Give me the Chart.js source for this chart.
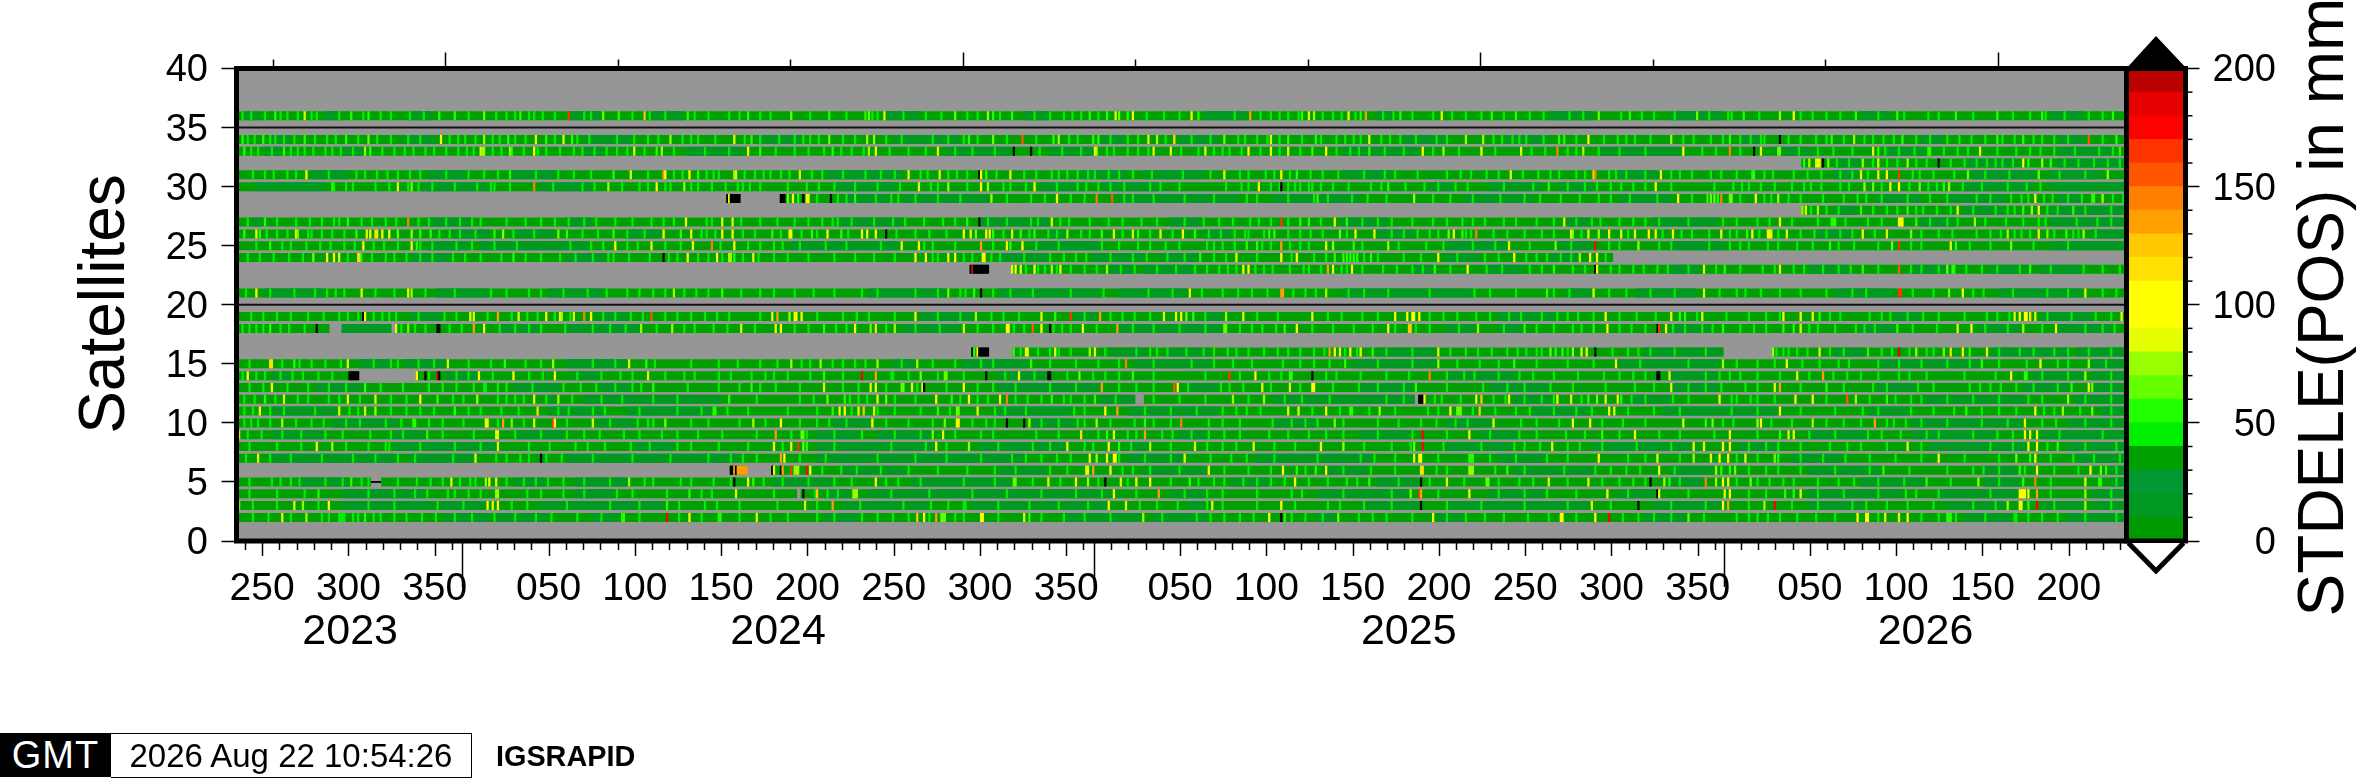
<!DOCTYPE html>
<html><head><meta charset="utf-8">
<style>
html,body{margin:0;padding:0;background:#fff;width:2358px;height:778px;overflow:hidden;font-family:"Liberation Sans",sans-serif}
canvas{position:absolute;top:0}
#logo{position:absolute;left:0;top:733px;width:111px;height:44px;background:#000;color:#fff;font:38px/44px "Liberation Sans";text-align:center;letter-spacing:1px}
#stamp{position:absolute;left:111px;top:733px;width:360px;height:43px;border:1px solid #000;border-left:none;font:33px/43px "Liberation Sans";text-align:center;color:#000}
#tag{position:absolute;left:496px;top:733px;height:44px;font:bold 28.8px/46px "Liberation Sans";color:#000}
</style>
<script src="https://cdn.jsdelivr.net/npm/chart.js@4"></script>
</head><body>
<canvas id="main" width="2358" height="778" style="left:0;width:2358px;height:778px"></canvas>
<canvas id="bar" width="358" height="778" style="left:2000px;width:358px;height:778px"></canvas>
<div id="logo">GMT</div><div id="stamp">2026 Aug 22 10:54:26</div><div id="tag">IGSRAPID</div>
<script>
// Tick labels and annotation
const yTicks=[0,5,10,15,20,25,30,35,40];
const doy2023=[250,300,350];
const doy2024=[50,100,150,200,250,300,350];
const doy2025=[50,100,150,200,250,300,350];
const doy2026=[50,100,150,200];
const yearNames=['2023','2024','2025','2026'];
const yearStartDays=[-14,130,496,861,1095];
const lastDoyOf2023=366;
const startMjd=60180;
const longMjd=[60300,60600,60900,61200];
const shortMjd=[60200,60400,60500,60700,60800,61000,61100];
const colorTicks=[0,50,100,150,200];
const bandColors=['#009900','#009922','#009933','#00a000','#00ee00','#22ff00','#66ff00','#99ff00','#e5ff00','#ffff00','#ffff00','#ffe000','#ffc800','#ffa000','#ff8000','#ff5500','#ff3300','#ff0000','#e60000','#bb0000'];
const gray='#969696';

// Days with data per satellite ([start,end] in days since 2023 DOY 236)
const fullSpan=[[-1,1095]];
const cov29=[[283,291],[314,1095]];
const cov32=[[906,1095]];
const cov28=[[906,1095]];
const cov24=[[-1,797]];
const cov23=[[424,435],[448,1095]];
const cov18=[[-1,53],[91,1095]];
const cov16=[[425,435],[449,861],[889,1095]];
const cov14=[[-1,70],[103,1095]];
const cov12=[[-1,520],[525,682],[684,1095]];
const cov6=[[285,295],[309,1095]];
const cov5=[[-1,77],[83,1095]];
const cov4=[[-1,324],[326,1095]];
const thinRows=[35,20];
const thin5=[77,83];

// Stretches of lower STDELE, start,end pairs in days
const calm36=[4,12,50,60,100,112,192,210,240,258,375,395,455,470,560,584,660,668,760,785,830,860,940,958,1050,1070];
const calm34=[20,30,95,115,200,228,300,326,380,418,500,514,545,568,675,700,735,760,870,885,975,988,1055,1071];
const calm33=[15,25,60,72,200,212,260,294,410,448,470,495,640,684,790,835,890,912,955,978,1055,1085];
const calm32=[925,940,1000,1030,1055,1094];
const calm31=[42,64,110,132,160,184,340,385,490,515,525,560,640,668,800,822,925,938,1005,1042,1050,1080];
const calm30=[10,50,106,145,175,205,345,382,465,490,500,533,690,704,725,755,765,785,1000,1040,1050,1094];
const calm29=[350,380,385,435,510,580,600,650,710,750,800,830,950,975,990,1025,1055,1070];
const calm28=[925,938,1000,1024,1050,1094];
const calm27=[8,14,110,135,190,205,348,385,430,470,540,558,640,666,770,785,820,858,975,995,1050,1094];
const calm26=[125,146,160,183,225,245,470,480,560,576,660,682,915,935,1075,1094];
const calm25=[110,134,140,203,320,383,460,500,700,735,765,785,830,862,1050,1094];
const calm24=[100,123,190,213,440,470,495,525,535,556,700,720,760,776];
const calm23=[505,518,525,553,680,692,725,745,830,848,910,933,970,990,1015,1037,1045,1068];
const calm21=[15,50,115,145,180,212,365,410,440,500,510,550,640,715,770,784,810,845,925,960,1020,1069];
const calm19=[100,118,210,226,395,426,485,498,560,570,730,763,960,975,1045,1075];
const calm18=[60,89,150,174,190,232,385,419,510,570,700,717,730,744,830,853,940,960,1010,1033,1055,1086];
const calm16=[505,527,540,563,660,694,815,860,925,943,1016,1060,1066,1094];
const calm15=[70,88,96,120,190,225,380,392,420,458,520,564,645,694,800,858,950,1009,1075,1094];
const calm14=[20,30,120,138,195,209,440,468,700,741,830,857,1040,1069,1075,1094];
const calm13=[45,72,160,187,210,227,440,499,550,568,650,681,725,759,830,858,950,972,1035,1061,1076,1094];
const calm12=[180,184,200,280,500,520,600,682,740,761,805,830,975,1036,1065,1094];
const calm11=[20,57,180,211,225,274,440,483,515,569,750,783,825,892,945,968,1080,1094];
const calm10=[55,93,210,230,345,366,460,485,600,624,700,726,970,1034,1060,1094];
const calm09=[20,49,90,108,160,189,335,360,370,401,545,561,650,680,720,741,910,944,970,1018,1045,1094];
const calm08=[90,149,230,253,335,403,430,479,515,527,700,738,785,842,870,891,980,1036,1060,1094];
const calm07=[20,91,100,136,190,290,335,455,515,547,590,657,730,757,900,930,1065,1094];
const calm06=[350,387,440,469,525,561,630,655,740,785,830,855,910,952,1010,1031,1085,1094];
const calm05=[35,64,160,178,195,225,310,344,390,448,575,597,660,684,830,849,940,977,1012,1033,1085,1094];
const calm04=[60,108,195,218,340,355,365,506,540,560,625,678,725,757,800,821,910,965,985,1031,1075,1094];
const calm03=[60,143,175,247,350,400,425,503,550,560,650,684,700,783,820,859,910,942,990,1024,1045,1069,1075,1094];
const calm02=[120,147,150,180,205,221,340,360,480,523,530,562,625,636,695,710,815,839,1000,1028,1060,1094];

// Days with a faint bright-green trace
const glow36=[7,28,42,58,88,107,133,155,168,183,204,228,247,272,290,308,331,352,370,385,407,441,461,470,483,526,545,577,592,608,628,639,663,680,703,733,748,771,779,813,832,852,881,912,928,950,985,1005,1028,1058,1072];
const glow34=[5,18,44,56,69,80,105,122,137,151,166,203,219,243,262,276,293,313,322,331,357,384,402,411,428,445,462,481,505,521,537,552,563,579,583,603,616,636,650,662,682,694,727,738,756,775,791,799,818,853,870,882,914,930,942,959,980,997,1012,1029,1060,1080];
const glow33=[7,19,30,43,54,66,83,96,108,120,136,147,152,165,178,199,225,235,252,270,284,311,322,330,355,362,377,388,398,425,438,464,477,488,503,515,527,546,570,581,592,603,615,636,644,664,675,692,707,728,749,757,770,788,800,815,848,856,870,904,924,935,962,971,988,1002,1030,1044,1064,1078];
const glow32=[926,933,947,955,978,992,1000,1022,1028,1058,1066,1075,1083,1090];
const glow31=[8,20,33,52,86,92,120,142,150,172,204,237,252,275,293,304,319,332,350,372,380,395,411,422,439,455,462,480,492,510,529,547,580,600,609,628,652,664,683,708,730,744,760,780,798,815,830,842,868,884,909,928,944,982,1012,1026,1055,1070];
const glow30=[55,66,79,87,98,112,125,138,157,182,199,222,232,250,262,296,302,318,329,345,357,370,405,422,447,456,474,486,505,513,528,545,572,585,603,612,620,634,643,662,676,695,712,733,750,770,780,801,815,830,855,871,882,900,911,933,952,968,999,1010,1025,1036];
const glow29=[335,352,369,378,392,405,418,445,467,482,513,530,548,565,590,608,631,645,665,692,715,731,745,766,788,806,822,842,870,884,905,918,930,952,967,990,1015,1033,1046,1060,1068,1086,1092];
const glow28=[911,920,927,947,961,972,984,992,1005,1018,1029,1054,1070,1085];
const glow27=[5,22,33,48,58,77,85,110,120,128,155,166,175,191,200,228,252,274,291,302,312,322,338,355,368,379,397,415,434,445,463,476,493,512,532,548,568,576,608,651,660,680,692,715,740,775,800,815,840,868,887,900,931,952,980,990,1012,1024,1034,1065,1085];
const glow26=[16,22,28,40,48,54,61,116,128,137,159,171,199,208,225,235,268,276,292,299,314,326,353,381,392,400,410,443,458,474,488,493,512,528,541,562,569,583,608,628,642,668,675,695,727,735,745,755,762,778,805,825,836,842,868,881,905,920,935,948,975,993,1007,1021,1033,1052,1063,1076];
const glow25=[10,25,47,53,78,92,112,126,148,161,192,211,231,247,256,279,295,310,325,340,352,372,402,415,437,462,475,510,521,545,577,598,615,620,651,672,698,715,728,748,772,794,800,830,852,870,892,903,936,950,975,1003,1015,1040,1060];
const glow24=[5,20,29,37,63,77,90,105,112,140,152,175,195,205,226,238,254,280,292,310,318,345,368,380,402,425,441,455,478,505,518,548,565,572,590,610,630,652,660,675,706,730,758,772,792];
const glow23=[456,467,482,497,511,532,543,561,578,594,609,620,639,651,663,680,702,732,755,780,795,808,828,840,856,870,890,901,918,927,950,975,985,1019,1032,1050,1080,1090];
const glow21=[4,18,32,44,61,79,90,108,125,155,168,188,202,240,265,272,291,310,322,345,370,392,405,421,447,460,482,501,527,541,558,587,596,618,624,652,666,690,725,740,771,794,818,832,858,868,882,905,943,970,982,1005,1028,1048,1060];
const glow19=[14,30,49,78,87,104,126,158,173,192,218,234,247,270,284,302,335,350,365,380,405,418,452,490,512,528,560,590,602,631,651,690,706,717,755,770,785,800,810,845,862,875,893,922,945,985,1000,1026,1048,1062];
const glow18=[6,14,24,38,94,108,122,129,151,160,168,189,205,224,242,258,283,299,322,346,352,375,392,406,428,455,477,497,518,530,545,560,587,601,622,634,657,670,690,707,733,752,762,778,800,815,838,848,870,878,910,925,948,970,1012,1025,1045,1070,1080];
const glow16=[453,470,482,502,520,532,549,559,573,578,602,615,629,648,665,680,702,718,735,741,755,770,796,818,832,850,895,903,922,930,952,958,968,978,1020,1032,1040,1052,1072,1085];
const glow15=[6,25,35,50,59,78,104,113,133,146,166,175,205,218,262,278,289,302,312,331,350,384,402,430,437,470,485,498,510,530,552,576,605,615,632,660,680,706,730,752,770,785,812,840,868,880,906,933,962,975,990,1003,1020,1036,1060,1082];
const glow14=[2,10,24,37,54,110,126,133,147,168,176,196,228,247,264,285,305,318,331,350,378,388,405,420,444,461,480,495,510,530,560,580,604,630,650,665,700,710,730,750,762,800,815,850,870,880,910,932,950,978,1000,1018,1045,1060,1085];
const glow13=[6,14,28,52,62,82,95,118,136,150,170,198,218,233,260,278,290,311,325,350,375,410,428,450,470,485,510,530,550,582,615,634,660,675,700,735,745,773,792,820,840,850,880,905,930,955,982,1015,1040,1054,1085];
const glow12=[9,21,40,52,58,70,88,97,124,130,150,160,178,193,210,222,240,254,300,325,333,364,380,392,418,428,450,465,478,490,508,530,545,560,585,606,616,632,665,675,693,727,745,755,778,807,815,840,865,880,890,920,945,975,990,1005,1020,1045,1070,1085];
const glow11=[8,26,44,69,88,97,105,133,140,152,162,185,205,232,254,268,283,295,318,335,355,380,395,412,444,456,490,525,540,555,578,592,622,638,655,670,695,715,728,748,762,775,805,835,865,880,905,925,950,982,1010,1030,1052,1085];
const glow10=[7,18,33,42,62,70,85,110,118,130,150,165,190,215,240,262,272,290,305,325,335,352,375,388,402,425,438,465,475,490,505,530,540,570,580,610,618,640,660,672,685,705,712,752,765,790,802,815,860,866,888,900,920,930,940,955,975,990,1010,1025,1045,1070,1085];
const glow09=[5,25,36,60,76,95,118,136,160,175,200,232,245,266,280,300,320,345,380,395,415,430,462,475,498,520,535,552,580,608,630,660,700,725,752,780,800,835,855,880,910,925,952,978,1005,1028,1055,1080];
const glow08=[6,22,36,62,85,105,125,140,168,180,195,238,262,278,295,315,345,378,398,440,460,470,495,517,540,570,600,612,652,668,698,720,745,770,790,810,830,875,885,905,932,955,975,1015,1028,1048,1070,1088];
const glow07=[4,18,30,48,66,79,102,124,155,168,187,205,228,250,272,285,300,325,340,370,392,410,430,448,465,482,510,525,540,575,600,625,650,670,695,725,740,770,805,815,835,868,880,905,918,945,975,1000,1020,1050,1075,1090];
const glow06=[338,358,372,405,422,450,480,512,528,545,571,585,598,618,640,670,700,728,745,768,795,812,832,875,885,905,925,945,968,990,1020,1035,1052,1066,1088];
const glow05=[6,35,50,60,92,103,128,134,165,172,200,215,235,262,275,285,315,330,355,375,395,420,438,460,498,515,540,582,590,606,620,648,672,710,730,750,770,800,808,835,868,880,895,915,950,965,992,1020,1050,1088];
const glow04=[6,22,38,75,90,102,125,140,175,200,228,248,268,310,334,347,378,400,425,445,465,485,500,520,548,570,590,610,640,668,695,730,745,775,805,840,875,885,915,930,950,985,1015,1050,1085];
const glow03=[8,22,46,75,90,115,130,158,190,215,232,255,270,290,312,335,360,385,440,458,475,492,522,570,590,612,652,668,700,720,745,770,795,830,850,875,900,915,935,955,1005,1018,1052,1085];
const glow02=[8,17,48,52,66,78,90,106,125,135,160,172,210,232,255,268,290,318,345,370,388,400,420,440,465,490,505,535,555,580,628,665,680,700,722,733,775,802,820,830,868,880,903,925,950,975,985,1012,1030,1045,1070,1088];

// Daily STDELE spikes above the quiet level, read as day,value pairs
const sat36=[2,45,15,45,21,55,24,45,34,45,38,85,45,45,65,55,72,45,75,55,82,45,99,45,116,55,125,55,142,65,149,45,160,45,163,55,171,45,176,45,191,165,200,45,211,65,220,55,235,125,238,45,260,55,264,45,
284,45,295,55,302,45,320,65,342,55,363,55,365,65,367,45,374,85,398,45,415,65,422,45,428,45,434,75,437,55,448,55,478,45,488,45,493,55,498,45,503,55,508,85,510,65,515,55,518,90,536,45,552,90,556,55,
586,130,598,45,603,45,614,45,616,55,620,85,623,75,634,45,643,90,647,45,650,55,653,135,669,45,673,55,692,45,697,85,711,45,720,45,726,55,740,55,756,45,788,65,801,45,806,55,820,45,845,65,
863,45,865,45,872,55,893,70,901,90,905,45,920,45,937,55,961,55,965,45,979,45,995,55,1019,55,1038,45,1045,55,1047,45,1080,45,1086,55];
const sat34=[2,55,9,45,14,55,21,45,26,45,32,45,38,55,51,45,62,55,75,65,88,45,98,45,117,95,127,45,131,45,142,75,147,45,156,55,160,45,172,85,178,55,183,45,188,85,193,55,196,45,229,45,237,45,250,75,257,45,266,45,
287,85,297,55,302,45,327,45,336,45,342,60,350,45,364,75,368,75,375,45,420,45,423,55,437,65,454,150,472,55,475,75,486,45,495,55,498,55,515,45,527,85,532,75,542,115,
571,65,590,45,596,45,598,85,608,55,624,55,627,45,641,45,646,45,655,85,667,45,673,45,700,45,711,75,721,75,732,45,742,45,746,45,765,55,768,55,782,90,804,45,809,45,830,70,837,45,843,45,
860,45,864,55,876,45,884,45,893,250,898,45,905,45,920,45,923,55,936,75,947,45,953,45,964,55,972,45,990,45,1004,45,1019,55,1022,45,1034,55,1040,45,1045,45,1052,45,1072,155,1088,55];
const sat33=[3,55,11,45,26,55,34,45,38,45,50,45,59,45,73,75,76,55,90,45,101,45,113,45,127,45,132,45,140,85,141,75,142,70,157,75,158,55,171,90,173,45,186,45,194,45,206,45,213,45,219,45,229,85,242,55,245,75,
295,90,302,55,339,45,344,55,349,45,365,75,369,90,405,85,415,45,449,250,459,250,496,90,497,75,507,45,521,45,530,80,540,85,556,45,
560,80,565,45,574,45,585,95,598,95,608,85,622,55,630,90,649,45,655,55,686,95,698,75,720,95,743,85,764,140,775,45,779,70,837,90,
864,140,878,250,882,85,892,65,893,65,915,45,947,85,950,55,954,45,979,55,980,55,996,45,1009,85,1019,45,1038,45,1052,45,1086,45,1090,55];
const sat32=[907,55,910,70,914,85,915,95,916,85,918,250,921,65,941,75,950,85,961,45,967,75,972,45,985,250,1007,45,1013,45,1018,45,1034,90,1037,55,1045,75,1050,55];
const sat31=[15,45,28,45,39,90,68,45,73,45,80,45,99,45,105,45,133,45,157,55,185,45,194,45,217,55,227,85,246,130,247,90,257,45,261,95,266,55,
271,45,278,45,287,70,288,85,299,45,308,45,314,45,325,85,338,45,363,45,388,95,399,45,406,85,416,45,429,250,430,90,433,55,447,85,471,45,475,45,486,45,496,45,504,45,518,45,
563,45,571,85,585,45,595,45,604,95,613,55,621,45,637,45,670,45,700,45,714,45,723,45,737,85,753,45,765,45,775,45,785,110,786,140,794,45,804,45,824,95,835,45,
853,45,859,45,877,55,878,55,889,45,901,45,917,45,935,45,940,85,950,85,955,95,962,165,970,45,974,45,994,45,1002,65,1043,65,1083,75];
const sat30=[54,55,62,45,92,85,100,65,104,45,146,45,148,45,171,140,206,45,214,75,237,45,242,90,247,45,258,75,266,45,
274,45,282,45,289,45,292,45,336,45,383,45,394,85,401,45,411,75,430,95,434,75,443,45,461,95,491,45,498,45,534,45,
581,45,591,95,598,45,604,250,608,45,615,45,622,45,627,45,656,45,666,55,687,45,705,45,759,55,787,45,795,45,808,45,821,90,
866,45,875,45,890,45,907,45,917,45,928,45,942,75,947,65,957,90,962,95,974,65,979,45,984,45,988,55,991,75,1044,45];
const sat29=[283,250,284,95,285,250,286,250,287,250,288,250,289,250,290,250,314,250,315,250,316,250,318,65,321,90,324,55,327,250,329,95,330,95,343,250,347,45,357,55,382,45,436,75,459,45,474,90,490,45,497,140,506,150,518,45,
584,45,623,45,625,55,654,45,681,75,702,45,754,45,777,45,795,45,834,90,
851,55,853,65,855,65,857,55,859,140,864,65,865,65,879,90,888,45,892,75,898,45,938,45,943,45,980,45,1007,45,1027,45,1037,45,1041,90,1051,45,1074,55,1075,55,1080,75];
const sat28=[906,75,908,85,915,75,940,55,955,45,967,55,976,45,984,45,996,85,1025,45,1034,55,1039,75,1043,90,1048,45,1063,55];
const sat27=[15,55,41,45,55,45,63,55,71,45,91,45,98,140,104,45,135,45,140,45,183,45,207,45,218,45,239,45,246,45,259,90,
271,45,280,85,286,85,330,45,344,45,347,45,386,45,408,45,422,55,429,250,459,45,471,85,481,45,504,45,523,45,
559,45,586,45,591,45,598,45,604,165,615,55,620,55,627,45,635,80,642,55,668,45,700,45,709,45,722,45,733,45,752,45,762,45,768,85,784,45,789,45,808,45,823,45,
860,45,880,45,893,90,915,45,923,55,924,55,925,55,944,45,962,90,963,90,964,90,972,55,996,45,1006,75,1043,45,1047,45,1077,45];
const sat26=[3,55,10,90,12,55,33,90,34,65,42,45,68,55,74,85,76,95,79,110,80,110,83,95,87,95,92,65,100,70,105,55,111,55,122,45,148,55,153,75,185,60,190,55,217,55,246,95,256,55,262,90,
271,45,280,90,286,90,309,55,319,85,320,95,332,55,335,45,341,90,349,55,361,95,364,85,369,95,375,250,420,90,424,85,427,65,433,100,435,95,437,55,448,85,453,55,461,55,469,45,480,75,500,55,507,80,518,80,521,55,534,85,547,90,554,55,
577,45,585,45,594,45,597,55,600,55,615,45,621,45,638,65,647,95,658,85,683,45,690,45,701,65,704,90,709,50,711,45,714,45,717,140,772,95,773,65,782,85,788,75,794,95,801,85,809,85,817,90,821,90,831,90,
852,45,859,85,864,45,874,55,877,90,886,95,887,95,888,85,892,45,897,85,913,45,928,45,941,95,955,85,969,60,985,45,1015,45,1025,75,1029,45,1038,45,1043,90,1048,65,1059,55,1066,45,1069,75];
const sat25=[18,55,30,45,39,45,61,45,67,45,72,95,84,45,100,95,103,55,105,45,135,45,204,45,218,90,225,45,239,85,263,95,
274,140,287,90,302,45,315,45,384,85,394,95,397,45,430,130,445,95,447,55,454,90,500,45,528,45,537,45,
561,45,565,45,570,45,584,55,590,55,593,45,604,130,609,45,630,80,634,75,646,55,666,75,688,45,736,85,763,65,786,175,811,70,823,45,
864,45,875,45,886,45,912,45,922,55,927,45,958,65,962,165,969,45,992,85,995,55,1027,65];
const sat24=[12,45,43,65,51,90,55,95,58,85,69,110,70,110,71,45,85,45,97,45,124,45,131,45,159,55,166,45,186,45,214,45,217,45,246,250,249,45,260,90,266,45,
272,45,277,90,284,75,285,75,287,55,298,85,301,45,330,45,357,45,392,90,398,90,405,45,411,85,415,95,420,45,431,90,432,90,436,45,470,45,485,45,491,45,526,45,538,45,557,55,
578,85,604,95,613,95,623,45,635,55,640,55,642,55,644,55,646,55,648,55,656,55,685,45,695,90,722,45,739,90,746,45,752,45,766,45,777,75,783,95,787,95];
const sat23=[424,250,425,180,426,250,427,250,428,250,429,250,430,250,431,250,432,250,433,250,434,250,448,85,450,95,453,85,461,90,463,45,471,75,474,45,476,85,490,45,503,75,519,45,554,45,
568,45,573,45,582,90,585,90,589,45,599,45,617,45,627,45,631,135,634,85,642,45,645,90,671,45,686,45,693,55,712,95,723,45,748,45,762,55,773,45,786,250,787,90,800,45,814,45,822,45,
849,85,861,55,883,45,893,85,907,45,934,45,941,55,962,150,969,45,990,65,993,55,994,55,1001,45,1010,45,1038,55,1069,45];
const sat21=[10,90,51,45,56,45,71,85,98,90,100,70,146,45,175,45,213,45,225,45,232,45,247,45,252,70,258,45,
280,55,302,45,333,45,361,45,411,65,418,45,426,55,430,250,437,45,551,85,
570,45,579,45,604,135,605,135,611,45,630,75,643,45,716,45,758,55,762,45,785,85,804,45,
849,85,873,45,893,45,920,45,935,45,962,165,963,165,991,65,999,90,1011,45,1070,85,1080,45,1088,45];
const sat19=[7,45,22,45,40,45,58,45,63,45,69,45,72,250,73,95,83,45,91,45,119,45,134,85,136,85,144,45,150,130,162,85,167,45,178,90,183,45,186,95,187,75,194,85,200,140,204,95,211,45,227,45,239,150,254,45,262,45,
277,45,309,85,312,130,319,75,322,95,323,90,326,90,358,45,392,90,427,75,436,45,443,45,465,85,473,55,482,165,499,135,505,45,519,45,536,85,543,85,546,95,549,60,553,55,
572,75,582,80,622,80,639,45,660,45,670,95,677,95,680,100,681,100,684,95,698,45,725,45,736,45,743,45,764,45,776,45,792,90,821,45,830,90,835,55,838,55,
848,85,885,45,895,90,905,90,912,95,916,55,928,45,952,45,957,45,967,45,976,45,1013,45,1019,45,1029,85,1032,90,1035,100,1036,100,1038,110,1041,80,1076,45,1085,45,1091,90];
const sat18=[2,45,10,45,18,55,29,45,45,250,
91,85,98,65,102,45,115,250,116,250,136,130,142,90,175,45,215,45,233,70,251,75,264,45,
275,45,291,85,311,85,314,95,330,45,339,50,357,95,366,65,369,110,380,75,420,85,437,45,445,90,446,90,449,45,460,150,465,90,470,250,472,45,482,45,489,90,509,135,
571,60,572,60,580,45,593,45,606,55,613,95,646,45,666,90,678,120,679,120,682,45,718,75,745,55,773,45,785,55,793,90,807,45,822,200,823,160,827,90,831,45,
854,45,860,55,885,45,895,55,901,55,905,85,915,45,937,45,942,45,961,55,984,45,996,85,1004,90,1034,70,1053,90,1087,45];
const sat16=[425,250,426,55,428,95,429,250,430,250,431,250,432,250,433,250,434,250,449,55,456,85,457,95,463,45,473,90,475,45,493,75,496,95,528,45,538,45,
565,45,585,45,594,45,608,45,623,45,632,135,635,100,638,85,641,45,644,95,650,90,657,55,695,85,711,45,726,45,746,45,752,45,760,65,763,55,767,55,773,75,778,85,781,95,786,250,805,45,811,45,
889,70,891,45,898,45,909,45,916,85,944,55,962,180,972,75,982,45,988,60,992,110,999,100,1003,55,1013,90,1060,45];
const sat15=[18,110,19,110,32,55,42,45,63,85,88,45,92,45,121,85,154,55,182,70,226,80,236,55,241,45,
320,75,326,45,337,70,344,45,357,45,363,45,370,75,393,75,415,45,459,55,514,140,
565,45,587,45,623,45,641,55,695,75,719,45,739,55,798,90,
860,75,890,45,897,90,916,45,927,45,950,45,1010,55,1044,90,1054,45,1072,75];
const sat14=[5,95,15,45,31,45,46,45,64,250,65,250,66,250,67,250,68,250,69,250,103,95,108,250,115,180,116,250,139,95,159,100,183,90,210,45,221,45,237,85,258,45,
278,45,297,45,310,45,339,55,361,170,369,130,379,45,395,60,409,60,410,60,433,250,452,90,469,250,470,250,487,65,502,45,518,50,
574,160,589,90,597,45,609,55,610,55,622,250,636,45,678,45,690,140,716,45,742,45,776,45,791,45,808,45,822,250,823,250,829,85,
858,45,864,45,893,45,903,85,918,130,924,45,940,45,962,45,968,45,1027,90,1035,55,1036,55,1070,75];
const sat13=[19,90,40,45,73,55,110,45,126,45,142,45,143,45,155,45,188,45,207,45,228,45,240,55,
297,55,302,45,339,85,359,45,366,85,369,90,384,60,385,60,390,85,393,45,396,85,397,250,420,90,437,45,500,130,520,45,542,150,544,90,
569,45,574,45,593,85,598,45,609,85,622,95,623,95,649,45,682,50,721,45,760,45,809,45,830,85,
859,45,873,45,890,85,893,130,920,55,947,45,973,45,1003,45,1009,45,1021,45,1030,45,1062,55,1072,95,1074,65];
const sat12=[3,45,15,55,26,85,34,45,63,95,79,80,105,90,115,55,138,75,155,45,165,45,171,85,185,75,
284,55,341,60,351,55,354,45,359,45,370,85,375,60,404,90,413,55,423,95,434,45,441,90,445,140,457,45,471,55,482,45,496,55,
576,70,594,70,684,250,685,250,686,250,687,90,697,45,708,45,717,80,720,120,734,45,736,95,762,45,764,95,772,85,782,55,787,65,792,85,799,85,801,55,831,45,
858,90,868,45,876,45,902,90,912,90,932,150,937,75,955,55,960,45,969,45,1037,45,1060,75];
const sat11=[3,45,12,90,18,45,58,85,64,45,73,80,79,75,113,45,125,55,173,110,191,45,212,45,
275,55,276,55,344,55,348,85,351,90,359,85,362,120,368,85,370,45,405,55,416,60,417,60,428,85,438,45,484,45,502,90,509,130,
570,45,584,45,608,85,614,85,630,90,644,50,645,50,661,75,689,45,702,90,706,65,707,65,708,65,719,120,740,45,784,45,794,90,797,85,820,45,
893,90,941,45,969,45,994,45,1001,55,1020,45,1041,95,1046,45,1057,75,1067,45,1074,65];
const sat10=[3,45,11,45,25,75,49,45,94,45,101,50,102,50,143,90,144,90,153,130,158,65,171,85,182,165,183,100,205,85,231,45,237,45,247,60,
298,75,314,95,342,45,367,90,409,60,416,95,417,95,433,45,445,250,455,250,458,75,486,45,497,75,519,45,525,55,546,140,
562,45,599,45,625,45,635,65,694,45,727,80,743,45,773,95,783,95,837,80,
850,55,854,60,880,75,882,90,912,75,948,135,959,45,966,45,1035,85,1053,45];
const sat09=[0,110,13,45,50,45,88,45,109,55,149,85,150,85,190,45,209,45,223,45,254,45,
311,130,326,65,327,65,329,45,361,45,402,60,408,85,437,45,488,110,503,55,507,85,515,45,525,135,541,45,
562,45,571,45,597,45,620,45,640,45,680,45,686,175,713,95,742,45,769,45,790,55,809,95,823,45,
864,95,893,55,898,85,901,95,944,45,963,45,985,45,1019,45,1035,95,1038,90,1042,95];
const sat08=[45,90,54,75,75,45,87,45,150,85,202,45,212,45,227,45,254,45,
310,90,320,85,324,165,327,60,329,55,404,90,410,45,423,75,480,85,490,45,504,95,510,55,528,75,554,85,
561,45,578,45,588,85,627,95,640,75,679,45,681,60,686,175,739,45,754,45,761,80,777,45,843,85,
849,80,860,100,864,95,892,45,922,45,940,45,967,85,1037,95,1042,90,1054,50];
const sat07=[11,85,92,45,137,85,149,45,163,45,175,250,178,45,
292,45,314,130,316,100,456,45,474,45,493,95,497,75,503,100,507,95,508,95,548,85,
563,45,584,45,658,45,681,85,684,100,685,100,713,55,714,55,715,55,758,45,788,95,822,85,843,75,
853,85,858,90,863,95,873,80,890,65,892,55,931,45,960,45,985,95,1030,60,1038,55,1041,95,1063,45];
const sat06=[285,250,286,250,287,130,288,250,289,135,290,135,291,135,292,135,293,135,294,135,309,250,310,85,314,250,315,135,320,165,322,75,323,75,324,75,329,170,331,95,349,45,388,45,438,45,470,45,491,80,492,80,495,135,505,95,518,45,
562,95,605,95,613,55,624,55,630,90,656,45,685,110,686,110,694,45,713,70,714,70,715,70,735,55,786,45,804,45,823,95,
856,75,859,55,864,55,867,65,892,45,953,55,1005,45,1011,45,1032,55,1042,95,1073,90,1079,65,1082,55];
const sat05=[19,45,24,45,30,45,65,55,71,45,75,45,111,45,118,45,123,85,137,45,143,75,145,95,149,85,155,45,179,45,188,45,226,75,240,45,256,45,
287,250,295,95,298,55,304,45,345,45,369,90,382,45,449,65,450,65,469,85,476,45,485,90,492,75,502,250,511,85,520,95,528,90,551,55,556,45,
565,45,571,45,598,45,612,95,631,45,642,45,655,55,685,250,690,45,700,85,723,60,724,60,742,45,759,85,782,85,790,45,815,45,818,250,826,75,829,55,
850,140,856,75,860,90,863,95,876,60,887,45,901,45,927,45,936,45,978,55,1008,75,1034,55,1041,140,1070,85,1078,55,1079,55];
const sat04=[46,55,109,45,121,45,133,45,149,70,150,70,167,45,188,45,219,45,261,55,
274,45,288,85,327,250,335,120,341,45,356,75,357,75,358,75,507,95,533,135,
561,45,616,45,679,60,684,160,685,130,713,95,758,45,793,95,822,250,823,90,
861,85,864,95,896,55,901,55,905,85,966,45,972,45,1032,90,1033,90,1034,90,1035,90,1037,100,1042,135,1070,75];
const sat03=[0,65,32,85,37,70,52,95,144,95,147,85,150,90,167,45,248,50,
277,45,328,85,344,130,401,45,411,45,420,45,421,45,504,95,514,85,532,45,544,45,
561,45,564,85,604,95,631,45,638,45,685,250,784,85,811,250,
860,90,863,135,884,75,890,175,943,45,967,45,982,45,1025,70,1032,95,1033,95,1037,55,1042,175,1070,70];
const sat02=[25,85,30,45,39,70,58,45,59,45,60,45,61,45,69,45,73,55,82,45,97,45,114,45,148,45,181,45,196,45,222,50,223,50,248,175,261,90,
278,55,279,55,300,85,308,45,335,45,361,45,379,45,393,120,397,90,404,130,407,65,408,65,409,65,415,45,430,100,431,100,455,85,458,55,478,45,524,75,
563,45,571,45,588,45,597,95,604,250,606,55,610,45,618,45,637,65,649,45,657,45,692,90,711,45,747,45,759,45,766,100,767,100,786,90,794,170,811,45,840,60,
849,45,875,45,886,45,893,45,914,45,938,90,943,90,944,90,954,80,962,85,967,90,990,50,991,50,992,50,995,45,1029,45,1037,45,1054,45];

const satRows=[
 [36,fullSpan,calm36,glow36,sat36],[34,fullSpan,calm34,glow34,sat34],[33,fullSpan,calm33,glow33,sat33],[32,cov32,calm32,glow32,sat32],[31,fullSpan,calm31,glow31,sat31],[30,fullSpan,calm30,glow30,sat30],
 [29,cov29,calm29,glow29,sat29],[28,cov28,calm28,glow28,sat28],[27,fullSpan,calm27,glow27,sat27],[26,fullSpan,calm26,glow26,sat26],[25,fullSpan,calm25,glow25,sat25],[24,cov24,calm24,glow24,sat24],[23,cov23,calm23,glow23,sat23],
 [21,fullSpan,calm21,glow21,sat21],[19,fullSpan,calm19,glow19,sat19],[18,cov18,calm18,glow18,sat18],[16,cov16,calm16,glow16,sat16],[15,fullSpan,calm15,glow15,sat15],[14,cov14,calm14,glow14,sat14],[13,fullSpan,calm13,glow13,sat13],
 [12,cov12,calm12,glow12,sat12],[11,fullSpan,calm11,glow11,sat11],[10,fullSpan,calm10,glow10,sat10],[9,fullSpan,calm09,glow09,sat09],[8,fullSpan,calm08,glow08,sat08],[7,fullSpan,calm07,glow07,sat07],[6,cov6,calm06,glow06,sat06],
 [5,cov5,calm05,glow05,sat05],[4,cov4,calm04,glow04,sat04],[3,fullSpan,calm03,glow03,sat03],[2,fullSpan,calm02,glow02,sat02]];
const quietValue=35;
const calmValue=15;
const glowValue=45;
const dayCellWidth=1.3;

function colorFor(v){ if(v>=200) return '#000'; return bandColors[Math.floor(v/10)]; }

const cells=[];
for(const [sat,spans,calm,glow,pairs] of satRows){
  for(const [a,b] of spans) cells.push({x:[a,b],y:sat,v:quietValue});
  for(let i=0;i<calm.length;i+=2) cells.push({x:[calm[i],calm[i+1]],y:sat,v:calmValue});
  for(const d of glow) cells.push({x:[d,d+dayCellWidth],y:sat,v:glowValue});
  for(let i=0;i<pairs.length;i+=2) cells.push({x:[pairs[i],pairs[i]+dayCellWidth],y:sat,v:pairs[i+1]});
}
const thinCells=thinRows.map(r=>({x:[-1,1095],y:r,v:250}));
thinCells.push({x:thin5,y:5,v:250});

// x tick values from the year / day-of-year lists
const yearStartOfDoy=[130-lastDoyOf2023,130,496,861];
const labelTicks=[];
[doy2023,doy2024,doy2025,doy2026].forEach((list,i)=>list.forEach(d=>labelTicks.push({value:yearStartOfDoy[i]+d,label:String(d).padStart(3,'0')})));
const minorTicks=[];
[[240,360],[0,360],[0,360],[0,230]].forEach(([a,b],i)=>{for(let d=a;d<=b;d+=10) if(d%50&&d>0) minorTicks.push(yearStartOfDoy[i]+d)});
const frameWidth=5;
const labelFont='38px "Liberation Sans"';
const labelDrop=2.5;

const decor={id:'decor',
 beforeDatasetsDraw(c){const a=c.chartArea,g=c.ctx;g.save();g.fillStyle=gray;g.fillRect(a.left,a.top,a.right-a.left,a.bottom-a.top);g.restore();},
 afterDraw(c){
  const g=c.ctx,a=c.chartArea,x=c.scales.x,y=c.scales.y;
  g.save();g.strokeStyle='#000';g.fillStyle='#000';
  const tick=(v,y0,y1,w)=>{const p=Math.round(x.getPixelForValue(v));g.lineWidth=w;g.beginPath();g.moveTo(p+.5,y0);g.lineTo(p+.5,y1);g.stroke();};
  minorTicks.forEach(v=>tick(v,a.bottom,a.bottom+9,1.5));
  labelTicks.forEach(t=>tick(t.value,a.bottom,a.bottom+15,1.5));
  yearStartDays.slice(1,4).forEach(v=>tick(v,a.bottom,a.bottom+46,1.5));
  shortMjd.forEach(m=>tick(m-startMjd,a.top-9,a.top,1.5));
  longMjd.forEach(m=>tick(m-startMjd,a.top-16,a.top,1.5));
  g.lineWidth=frameWidth;g.strokeRect(a.left,a.top,a.right-a.left,a.bottom-a.top);
  g.font=labelFont;g.textAlign='right';g.textBaseline='middle';
  yTicks.forEach(v=>g.fillText(String(v),208,y.getPixelForValue(v)+labelDrop));
  g.font='43px "Liberation Sans"';g.textAlign='center';
  yearNames.forEach((n,i)=>{const m=(Math.max(yearStartDays[i],0)+Math.min(yearStartDays[i+1],1095))/2;g.fillText(n,x.getPixelForValue(m),632);});
  g.font='64px "Liberation Sans"';g.translate(106,304);g.rotate(-Math.PI/2);g.fillText('Satellites',0,0);
  g.restore();
}};

new Chart(document.getElementById('main'),{
  type:'bar',
  data:{datasets:[
    {data:cells,backgroundColor:ctx=>colorFor(ctx.raw.v),barThickness:9,order:1,inflateAmount:0},
    {data:thinCells,backgroundColor:'#111',barThickness:2,order:2,inflateAmount:0}
  ]},
  options:{
    indexAxis:'y',responsive:false,animation:false,devicePixelRatio:1,
    layout:{padding:{left:0,top:68.5,right:2358-2126.5,bottom:0}},
    datasets:{bar:{grouped:false}},
    plugins:{legend:{display:false},tooltip:{enabled:false},title:{display:false}},
    scales:{
      x:{type:'linear',position:'bottom',min:-0.87,max:1094.5,offset:false,
         grid:{display:false,drawTicks:false},border:{display:false},
         afterFit:s=>{s.height=778-541},
         afterBuildTicks:s=>{s.ticks=labelTicks.map(t=>({value:t.value,label:t.label}))},
         afterTickToLabelConversion:s=>{s.ticks.forEach((t,i)=>{t.label=labelTicks[i].label})},
         ticks:{autoSkip:false,maxRotation:0,minRotation:0,padding:25,color:'#000',font:{family:'"Liberation Sans"',size:39}}},
      y:{type:'linear',position:'left',min:0,max:40,offset:false,
         grid:{offset:false,drawOnChartArea:false,drawTicks:true,tickLength:15,tickColor:'#000',tickWidth:1.5},border:{display:false},
         afterFit:s=>{s.width=236.5},
         afterBuildTicks:s=>{s.ticks=yTicks.map(v=>({value:v}))},
         ticks:{autoSkip:false,padding:13,color:'rgba(0,0,0,0)',font:{family:'"Liberation Sans"',size:38}}}
    }
  },
  plugins:[decor]
});

const bandEdges=bandColors.map((_,i)=>[i*10,i*10+10]);
const colorMinor=bandEdges.map(e=>e[0]).filter(v=>v%50);
const barDecor={id:'barDecor',afterDraw(c){
  const g=c.ctx,a=c.chartArea,y=c.scales.y;
  g.save();g.strokeStyle='#000';g.fillStyle='#000';g.lineWidth=1.5;
  colorMinor.forEach(v=>{const p=y.getPixelForValue(v);g.beginPath();g.moveTo(a.right,p);g.lineTo(a.right+7,p);g.stroke();});
  g.lineWidth=frameWidth;g.strokeRect(a.left,a.top,a.right-a.left,a.bottom-a.top);
  const mid=(a.left+a.right)/2;
  g.beginPath();g.moveTo(a.left-2,a.top+2);g.lineTo(mid,36);g.lineTo(a.right+3,a.top+2);g.closePath();g.fill();
  g.lineWidth=5;g.fillStyle='#fff';g.beginPath();g.moveTo(a.left+2,a.bottom+2);g.lineTo(mid,a.bottom+30);g.lineTo(a.right-2,a.bottom+2);g.fill();g.stroke();
  g.fillStyle='#000';g.font=labelFont;g.textAlign='right';g.textBaseline='middle';
  colorTicks.forEach(v=>g.fillText(String(v),276,y.getPixelForValue(v)+labelDrop));
  g.font='64px "Liberation Sans"';g.textAlign='center';
  g.translate(325,307);g.rotate(-Math.PI/2);g.fillText('STDELE(POS) in mm',0,0);
  g.restore();
}};
new Chart(document.getElementById('bar'),{
  type:'bar',
  data:{labels:['c'],datasets:bandEdges.map((e,i)=>({data:[e],backgroundColor:bandColors[i],grouped:false,barPercentage:1,categoryPercentage:1,inflateAmount:0.5}))},
  options:{responsive:false,animation:false,devicePixelRatio:1,
    layout:{padding:{left:126.5,top:68.5,right:0,bottom:778-541}},
    plugins:{legend:{display:false},tooltip:{enabled:false}},
    scales:{
      x:{display:false},
      y:{type:'linear',position:'right',min:0,max:200,
         grid:{drawOnChartArea:false,tickLength:14,tickColor:'#000',tickWidth:1.5},border:{display:false},
         afterFit:s=>{s.width=358-185.5},
         afterBuildTicks:s=>{s.ticks=colorTicks.map(v=>({value:v}))},
         ticks:{autoSkip:false,padding:13,color:'rgba(0,0,0,0)',font:{family:'"Liberation Sans"',size:38}}}
    }
  },
  plugins:[barDecor]
});
</script>
</body></html>
